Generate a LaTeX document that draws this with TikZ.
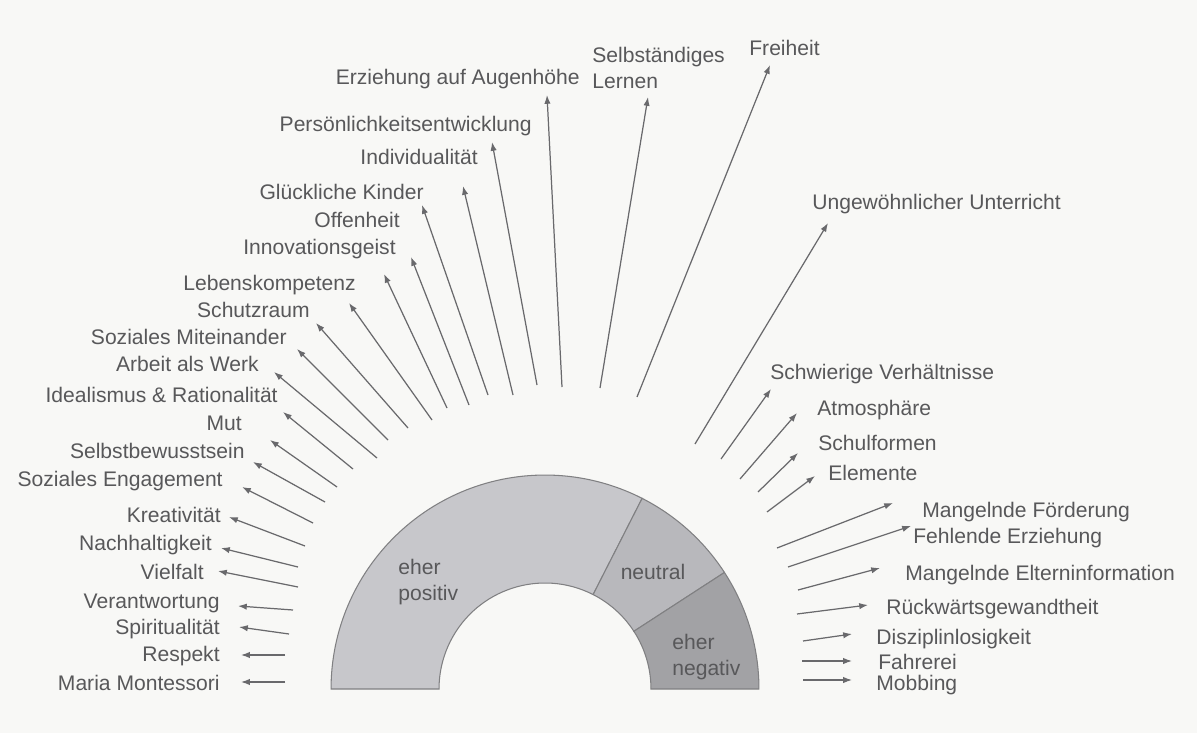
\documentclass[tikz,border=0pt]{standalone}
\usepackage{fontspec}
\setmainfont{Liberation Sans}
\usetikzlibrary{arrows.meta}

\definecolor{bg}{RGB}{248,248,246}
\definecolor{txtgray}{RGB}{88,88,90}
\definecolor{arrgray}{RGB}{105,105,108}
\definecolor{rimgray}{RGB}{128,128,130}
\definecolor{posgray}{RGB}{199,199,203}
\definecolor{neugray}{RGB}{184,184,188}
\definecolor{neggray}{RGB}{162,162,165}

\tikzset{
  lbl/.style={inner sep=0pt, text=txtgray, font=\fontsize{12}{14.5}\selectfont,
    text height=8.6pt, text depth=0pt},
  lbltwo/.style={inner sep=0pt, text=txtgray, font=\fontsize{12}{14.5}\selectfont,
    align=left},
  arr/.style={draw=arrgray, line width=0.7pt, -{Latex[length=5pt,width=3.6pt]}},
  sector/.style={draw=rimgray, line width=0.6pt}
}

\begin{document}
\begin{tikzpicture}[x=0.02cm, y=-0.02cm]
    \useasboundingbox (0,0) rectangle (1197,733);
    \fill[bg] (0,0) rectangle (1197,733);

    % the half ring
    \coordinate (c) at (545,689);
    \filldraw[sector, fill=posgray] ([shift={(180:4.28cm)}]c) arc[start
      angle=180, end angle=63, radius=4.28cm] -- ([shift={(63:2.12cm)}]c)
      arc[start angle=63, end angle=180, radius=2.12cm] -- cycle;
    \filldraw[sector, fill=neugray] ([shift={(63:4.28cm)}]c) arc[start
      angle=63, end angle=33, radius=4.28cm] -- ([shift={(33:2.12cm)}]c)
      arc[start angle=33, end angle=63, radius=2.12cm] -- cycle;
    \filldraw[sector, fill=neggray] ([shift={(33:4.28cm)}]c) arc[start
      angle=33, end angle=0, radius=4.28cm] -- ([shift={(0:2.12cm)}]c)
      arc[start angle=0, end angle=33, radius=2.12cm] -- cycle;
    \node[lbltwo, anchor=north west] (pos) at (398,559) {eher\\positiv};
    \node[lbl] (neu) at (653,572) {neutral};
    \node[lbltwo, anchor=north west] (neg) at (672,634) {eher\\negativ};

    % eher positiv
    \node[lbl, anchor=east] (montessori) at (220,683) {Maria Montessori};
    \coordinate (montessori-a) at (285,682); \coordinate (montessori-b) at (241,682);
    \node[lbl, anchor=east] (respekt) at (220,654) {Respekt};
    \coordinate (respekt-a) at (285,655); \coordinate (respekt-b) at (241,655);
    \node[lbl, anchor=east] (spirit) at (220,627) {Spiritualität};
    \coordinate (spirit-a) at (289,634); \coordinate (spirit-b) at (239,627);
    \node[lbl, anchor=east] (verantw) at (220,601) {Verantwortung};
    \coordinate (verantw-a) at (293,610); \coordinate (verantw-b) at (238,606);
    \node[lbl, anchor=east] (vielfalt) at (204,572) {Vielfalt};
    \coordinate (vielfalt-a) at (298,587); \coordinate (vielfalt-b) at (218,571);
    \node[lbl, anchor=east] (nachhalt) at (212,543) {Nachhaltigkeit};
    \coordinate (nachhalt-a) at (298,567); \coordinate (nachhalt-b) at (221,548);
    \node[lbl, anchor=east] (kreativ) at (221,515) {Kreativität};
    \coordinate (kreativ-a) at (305,546); \coordinate (kreativ-b) at (229,517);
    \node[lbl, anchor=east] (engagement) at (223,479) {Soziales Engagement};
    \coordinate (engagement-a) at (313,523); \coordinate (engagement-b) at (242,487);
    \node[lbl, anchor=east] (selbstbew) at (245,451) {Selbstbewusstsein};
    \coordinate (selbstbew-a) at (325,502); \coordinate (selbstbew-b) at (253,462);
    \node[lbl, anchor=east] (mut) at (242,423) {Mut};
    \coordinate (mut-a) at (337,487); \coordinate (mut-b) at (270,440);
    \node[lbl, anchor=east] (ideal) at (278,395) {Idealismus \& Rationalität};
    \coordinate (ideal-a) at (353,469); \coordinate (ideal-b) at (283,412);
    \node[lbl, anchor=east] (werk) at (259,364) {Arbeit als Werk};
    \coordinate (werk-a) at (377,458); \coordinate (werk-b) at (274,372);
    \node[lbl, anchor=east] (miteinander) at (287,337) {Soziales Miteinander};
    \coordinate (miteinander-a) at (388,440); \coordinate (miteinander-b) at (297,349);
    \node[lbl, anchor=east] (schutz) at (310,310) {Schutzraum};
    \coordinate (schutz-a) at (408,428); \coordinate (schutz-b) at (316,323);
    \node[lbl, anchor=east] (lebensk) at (356,283) {Lebenskompetenz};
    \coordinate (lebensk-a) at (432,420); \coordinate (lebensk-b) at (349,303);
    \node[lbl, anchor=east] (innov) at (396,247) {Innovationsgeist};
    \coordinate (innov-a) at (447,408); \coordinate (innov-b) at (384,274);
    \node[lbl, anchor=east] (offen) at (400,220) {Offenheit};
    \coordinate (offen-a) at (469,405); \coordinate (offen-b) at (411,257);
    \node[lbl, anchor=east] (kinder) at (424,192) {Glückliche Kinder};
    \coordinate (kinder-a) at (488,395); \coordinate (kinder-b) at (422,205);
    \node[lbl, anchor=east] (indiv) at (478,157) {Individualität};
    \coordinate (indiv-a) at (513,395); \coordinate (indiv-b) at (463,186);
    \node[lbl, anchor=east] (persoenl) at (532,124) {Persönlichkeitsentwicklung};
    \coordinate (persoenl-a) at (537,385); \coordinate (persoenl-b) at (492,142);
    \node[lbl, anchor=east] (augenhoehe) at (580,77) {Erziehung auf Augenhöhe};
    \coordinate (augenhoehe-a) at (562,387); \coordinate (augenhoehe-b) at (547,95);
    \node[lbltwo, anchor=north west] (lernen) at (592,47) {Selbständiges\\Lernen};
    \coordinate (lernen-a) at (600,388); \coordinate (lernen-b) at (648,97);
    \node[lbl, anchor=west] (freiheit) at (749,48) {Freiheit};
    \coordinate (freiheit-a) at (637,397); \coordinate (freiheit-b) at (770,65);

    % neutral
    \node[lbl, anchor=west] (unterricht) at (812,202) {Ungewöhnlicher Unterricht};
    \coordinate (unterricht-a) at (695,444); \coordinate (unterricht-b) at (828,223);
    \node[lbl, anchor=west] (verhaeltn) at (770,372) {Schwierige Verhältnisse};
    \coordinate (verhaeltn-a) at (721,459); \coordinate (verhaeltn-b) at (771,389);
    \node[lbl, anchor=west] (atmos) at (817,408) {Atmosphäre};
    \coordinate (atmos-a) at (740,479); \coordinate (atmos-b) at (797,413);
    \node[lbl, anchor=west] (schulf) at (818,443) {Schulformen};
    \coordinate (schulf-a) at (758,492); \coordinate (schulf-b) at (798,453);
    \node[lbl, anchor=west] (elemente) at (828,473) {Elemente};
    \coordinate (elemente-a) at (767,512); \coordinate (elemente-b) at (815,476);

    % eher negativ
    \node[lbl, anchor=west] (foerderung) at (922,510) {Mangelnde Förderung};
    \coordinate (foerderung-a) at (777,548); \coordinate (foerderung-b) at (893,503);
    \node[lbl, anchor=west] (erziehung) at (913,536) {Fehlende Erziehung};
    \coordinate (erziehung-a) at (788,567); \coordinate (erziehung-b) at (911,526);
    \node[lbl, anchor=west] (elterninfo) at (905,573) {Mangelnde Elterninformation};
    \coordinate (elterninfo-a) at (798,590); \coordinate (elterninfo-b) at (880,568);
    \node[lbl, anchor=west] (rueckw) at (886,607) {Rückwärtsgewandtheit};
    \coordinate (rueckw-a) at (797,614); \coordinate (rueckw-b) at (868,605);
    \node[lbl, anchor=west] (disziplin) at (876,637) {Disziplinlosigkeit};
    \coordinate (disziplin-a) at (803,641); \coordinate (disziplin-b) at (852,634);
    \node[lbl, anchor=west] (fahrerei) at (878,662) {Fahrerei};
    \coordinate (fahrerei-a) at (802,661); \coordinate (fahrerei-b) at (852,661);
    \node[lbl, anchor=west] (mobbing) at (876,683) {Mobbing};
    \coordinate (mobbing-a) at (803,680); \coordinate (mobbing-b) at (852,680);

    % arrows
    \foreach \n in {montessori, respekt, spirit, verantw, vielfalt, nachhalt,
      kreativ, engagement, selbstbew, mut, ideal, werk, miteinander, schutz,
      lebensk, innov, offen, kinder, indiv, persoenl, augenhoehe, lernen,
      freiheit, unterricht, verhaeltn, atmos, schulf, elemente, foerderung,
      erziehung, elterninfo, rueckw, disziplin, fahrerei, mobbing}
      \draw[arr] (\n-a) -- (\n-b);
  \end{tikzpicture}
\end{document}
